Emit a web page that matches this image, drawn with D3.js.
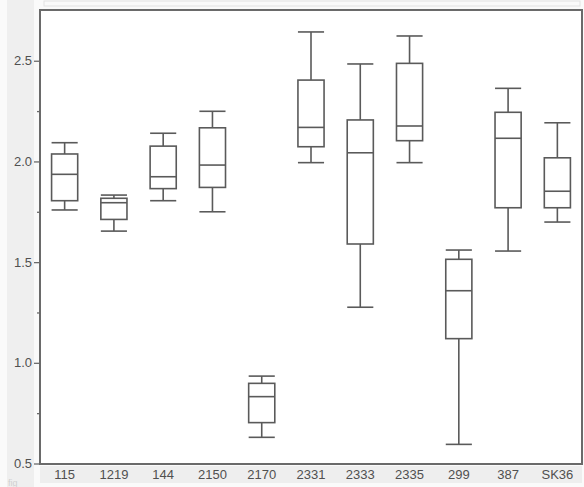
<!DOCTYPE html>
<html><head><meta charset="utf-8">
<script src="https://cdn.jsdelivr.net/npm/d3@7"></script>
<style>body{margin:0;background:#fff}svg{display:block}</style>
</head><body>
<script>
const categories = ["115","1219","144","2150","2170","2331","2333","2335","299","387","SK36"];
const whiskerLow  = [1.759,1.654,1.805,1.750,0.630,1.994,1.276,1.994,0.595,1.555,1.699];
const q1          = [1.805,1.712,1.865,1.871,0.703,2.073,1.590,2.103,1.120,1.770,1.770];
const median      = [1.936,1.795,1.924,1.982,0.832,2.169,2.043,2.176,1.358,2.115,1.852];
const q3          = [2.037,1.817,2.076,2.167,0.898,2.404,2.206,2.487,1.514,2.244,2.018];
const whiskerHigh = [2.093,1.833,2.140,2.249,0.934,2.643,2.484,2.623,1.560,2.363,2.192];
const majorTicks = [0.5,1.0,1.5,2.0,2.5];
const minorTicks = [0.75,1.25,1.75,2.25];

const W=584,H=487;
const m={l:40,t:10,r:2,b:23};
const FONT="Liberation Sans, Arial, sans-serif";
const svg=d3.select("body").append("svg").attr("width",W).attr("height",H);

// background panels
svg.append("rect").attr("x",0).attr("y",0).attr("width",W).attr("height",H).attr("fill","#fafafa");
svg.append("rect").attr("x",7).attr("y",0).attr("width",27).attr("height",H).attr("fill","#efefef");
svg.append("rect").attr("x",40).attr("y",466).attr("width",542).attr("height",17).attr("fill","#eeeeee");
svg.append("rect").attr("x",44).attr("y",1).attr("width",536).attr("height",5).attr("fill","none").attr("stroke","#e2e2e2");

const x=d3.scaleBand().domain(categories).range([m.l,W-m.r]).paddingInner(0.47).paddingOuter(0.235);
const y=d3.scaleLinear().domain([0.5,2.752]).range([H-m.b-0.5,m.t]);

svg.append("rect").attr("x",m.l).attr("y",m.t).attr("width",W-m.r-m.l).attr("height",H-m.b-m.t)
  .attr("fill","#fff").attr("stroke","#6a6a6a").attr("stroke-width",2);

const data=categories.map((c,i)=>({c,lo:whiskerLow[i],q1:q1[i],md:median[i],q3:q3[i],hi:whiskerHigh[i]}));
const g=svg.append("g").attr("stroke","#5a5a5a").attr("stroke-width",1.6).attr("fill","none");
const bw=x.bandwidth();
data.forEach(d=>{
  const x0=x(d.c), xc=x0+bw/2;
  g.append("line").attr("x1",xc).attr("x2",xc).attr("y1",y(d.hi)).attr("y2",y(d.q3));
  g.append("line").attr("x1",xc).attr("x2",xc).attr("y1",y(d.q1)).attr("y2",y(d.lo));
  g.append("line").attr("x1",x0).attr("x2",x0+bw).attr("y1",y(d.hi)).attr("y2",y(d.hi));
  g.append("line").attr("x1",x0).attr("x2",x0+bw).attr("y1",y(d.lo)).attr("y2",y(d.lo));
  g.append("rect").attr("x",x0).attr("y",y(d.q3)).attr("width",bw).attr("height",y(d.q1)-y(d.q3)).attr("fill","#fff");
  g.append("line").attr("x1",x0).attr("x2",x0+bw).attr("y1",y(d.md)).attr("y2",y(d.md));
});

// y axis
const ya=svg.append("g").attr("transform",`translate(${m.l},0)`)
  .call(d3.axisLeft(y).tickValues(majorTicks).tickFormat(d3.format(".1f")).tickSize(6).tickPadding(2));
ya.select(".domain").remove();
ya.selectAll("line").attr("stroke","#6a6a6a").attr("stroke-width",1.3);
ya.selectAll("text").attr("font-family",FONT).attr("font-size",13).attr("fill","#505050");
const ym=svg.append("g").attr("transform",`translate(${m.l},0)`)
  .call(d3.axisLeft(y).tickValues(minorTicks).tickFormat("").tickSize(3));
ym.select(".domain").remove();
ym.selectAll("line").attr("stroke","#6a6a6a").attr("stroke-width",1.3);

// x axis
const xa=svg.append("g").attr("transform",`translate(0,${H-m.b})`)
  .call(d3.axisBottom(x).tickSize(0).tickPadding(6));
xa.select(".domain").remove();
xa.selectAll("text").attr("font-family",FONT).attr("font-size",13).attr("fill","#505050");

svg.append("text").attr("x",8).attr("y",486).attr("font-family",FONT)
  .attr("font-size",9).attr("fill","#d0d0d0").text("fig");
</script>
</body></html>
